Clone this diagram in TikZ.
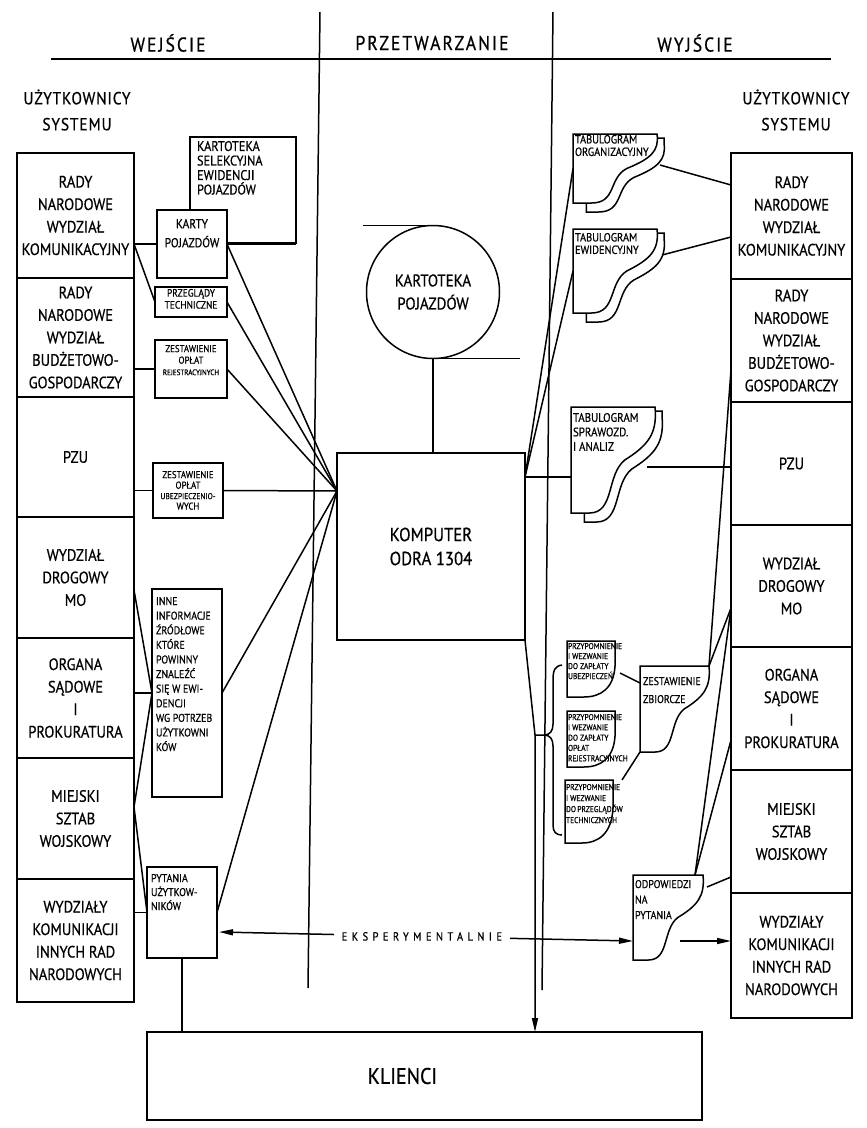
\documentclass[tikz,border=0pt]{standalone}
\usepackage{fontspec}
\setmainfont{PT Sans}[FakeStretch=0.88, FakeBold=0.6]
\usetikzlibrary{arrows.meta,calc}
\newcommand{\tbox}[4]{\parbox[c][#2][t]{#1}{\hyphenpenalty=10000 \exhyphenpenalty=10000 #3#4}}
\newcommand{\wavydoc}[1]{%
\draw[ln] let \p1=(#1.north west), \p2=(#1.south east), \n1={\x2-\x1}, \n2={\y1-\y2} in
 (\x1,\y1) -- (\x2,\y1) .. controls ({\x2+0.03*\n1},{\y1-0.25*\n2}) and ({\x1+0.92*\n1},{\y1-0.36*\n2}) .. ({\x1+0.64*\n1},{\y1-0.5*\n2}) .. controls ({\x1+0.42*\n1},{\y1-0.64*\n2}) and ({\x1+0.52*\n1},\y2) .. ({\x1+0.22*\n1},\y2) -- (\x1,\y2) -- cycle;}
\newcommand{\wavyshadow}[1]{%
\draw[ln] let \p1=(#1.north west), \p2=(#1.south east), \n1={\x2-\x1}, \n2={\y1-\y2} in
 (\x2,{\y1-4}) -- ({\x2+7},{\y1-4}) -- ({\x2+7},{\y1-9}) .. controls ({\x2+7+0.03*\n1},{\y1-9-0.25*\n2}) and ({\x1+7+0.92*\n1},{\y1-9-0.36*\n2}) .. ({\x1+7+0.64*\n1},{\y1-9-0.5*\n2}) .. controls ({\x1+7+0.42*\n1},{\y1-9-0.64*\n2}) and ({\x1+7+0.52*\n1},{\y2-9}) .. ({\x1+7+0.22*\n1},{\y2-9}) -- ({\x1+0.16*\n1},{\y2-9}) -- ({\x1+0.16*\n1},\y2);}
\newcommand{\smalldoc}[1]{%
\draw[ln] let \p1=(#1.north west), \p2=(#1.south east), \n1={\x2-\x1}, \n2={\y1-\y2} in
 (\x1,\y1) -- (\x2,\y1) -- (\x2,{\y1-0.45*\n2}) .. controls ({\x2-0.03*\n1},{\y1-0.85*\n2}) and ({\x1+0.7*\n1},\y2) .. ({\x1+0.35*\n1},\y2) -- (\x1,\y2) -- cycle;}
\tikzset{
 every node/.style={outer sep=0pt},
 ln/.style={line width=1.5pt},
 rowbox/.style={draw, line width=1.5pt, anchor=north west, align=center, inner sep=0pt, font=\fontsize{16.5}{22.5}\selectfont},
 bx/.style={draw, line width=1.5pt, inner sep=0pt, anchor=north west},
 dc/.style={inner sep=0pt, anchor=north west},
 arrT/.style={-{Triangle[length=14pt,width=6pt]}},
 arrB/.style={{Triangle[length=14pt,width=6pt]}-{Triangle[length=14pt,width=6pt]}},
 hdr/.style={font=\fontsize{20}{22}\selectfont\addfontfeature{LetterSpace=10}},
 usr/.style={font=\fontsize{17.5}{26}\selectfont\addfontfeature{LetterSpace=5}, align=center},
}
\begin{document}
\begin{tikzpicture}[x=1pt,y=1pt]
\useasboundingbox (0,0) rectangle (867,-1128);
% headers and dividers
\node[hdr] (hin) at (168,-43) {WEJŚCIE};
\node[hdr] (hproc) at (432,-43) {PRZETWARZANIE};
\node[hdr] (hout) at (695,-43) {WYJŚCIE};
\coordinate (hlA) at (51,-59); \coordinate (hlB) at (831,-59);
\coordinate (dAt) at (320,-12); \coordinate (dAb) at (308,-988);
\coordinate (dBt) at (553,-12); \coordinate (dBb) at (542,-990);
\draw[ln] (hlA) -- (hlB);
\draw[ln] (dAt) -- (dAb);
\draw[ln] (dBt) -- (dBb);
\node[usr] (usrL) at (77,-110) {UŻYTKOWNICY\\SYSTEMU};
\node[usr] (usrR) at (796,-110) {UŻYTKOWNICY\\SYSTEMU};
% left column
\node[rowbox, minimum width=117pt, minimum height=125pt] (L1) at (17,-153) {RADY\\NARODOWE\\WYDZIAŁ\\KOMUNIKACYJNY};
\node[rowbox, minimum width=117pt, minimum height=119pt] (L2) at (17,-278) {RADY\\NARODOWE\\WYDZIAŁ\\BUDŻETOWO-\\GOSPODARCZY};
\node[rowbox, minimum width=117pt, minimum height=120pt] (L3) at (17,-397) {PZU};
\node[rowbox, minimum width=117pt, minimum height=121pt] (L4) at (17,-517) {WYDZIAŁ\\DROGOWY\\MO};
\node[rowbox, minimum width=117pt, minimum height=120pt] (L5) at (17,-638) {ORGANA\\SĄDOWE\\I\\PROKURATURA};
\node[rowbox, minimum width=117pt, minimum height=121pt] (L6) at (17,-758) {MIEJSKI\\SZTAB\\WOJSKOWY};
\node[rowbox, minimum width=117pt, minimum height=123pt] (L7) at (17,-879) {WYDZIAŁY\\KOMUNIKACJI\\INNYCH RAD\\NARODOWYCH};
% right column
\node[rowbox, minimum width=121pt, minimum height=126pt] (R1) at (731,-153) {RADY\\NARODOWE\\WYDZIAŁ\\KOMUNIKACYJNY};
\node[rowbox, minimum width=121pt, minimum height=123pt] (R2) at (731,-279) {RADY\\NARODOWE\\WYDZIAŁ\\BUDŻETOWO-\\GOSPODARCZY};
\node[rowbox, minimum width=121pt, minimum height=123pt] (R3) at (731,-402) {PZU};
\node[rowbox, minimum width=121pt, minimum height=122pt] (R4) at (731,-525) {WYDZIAŁ\\DROGOWY\\MO};
\node[rowbox, minimum width=121pt, minimum height=123pt] (R5) at (731,-647) {ORGANA\\SĄDOWE\\I\\PROKURATURA};
\node[rowbox, minimum width=121pt, minimum height=123pt] (R6) at (731,-770) {MIEJSKI\\SZTAB\\WOJSKOWY};
\node[rowbox, minimum width=121pt, minimum height=125pt] (R7) at (731,-893) {WYDZIAŁY\\KOMUNIKACJI\\INNYCH RAD\\NARODOWYCH};
% left documents
\node[bx] (ks) at (190,-137) {\tbox{106pt}{106pt}{\fontsize{14}{14.5}\selectfont\raggedright\leftskip=7pt\vspace*{4pt}}{KARTOTEKA\\SELEKCYJNA\\EWIDENCJI\\POJAZDÓW}};
\node[bx, fill=white] (karty) at (157,-210) {\tbox{70pt}{68pt}{\fontsize{13}{19}\selectfont\centering\vspace*{9pt}}{KARTY\\POJAZDÓW}};
\node[bx] (prz) at (155,-287) {\tbox{72pt}{30pt}{\fontsize{10.7}{12}\selectfont\centering\vspace*{2pt}}{PRZEGLĄDY\\TECHNICZNE}};
\node[bx] (zrej) at (155,-340) {\tbox{72pt}{58pt}{\fontsize{10}{11.5}\selectfont\centering\vspace*{5pt}}{ZESTAWIENIE\\OPŁAT\\{\fontsize{8}{11.5}\selectfont REJESTRACYJNYCH}}};
\node[bx] (ubez) at (153,-463) {\tbox{70pt}{55pt}{\fontsize{10}{10.5}\selectfont\centering\vspace*{8pt}}{ZESTAWIENIE\\OPŁAT\\{\fontsize{8.5}{10.5}\selectfont UBEZPIECZENIO-}\\WYCH}};
\node[bx] (inne) at (152,-589) {\tbox{70pt}{208pt}{\fontsize{11.3}{14.6}\selectfont\raggedright\leftskip=4pt\vspace*{8pt}}{INNE\\INFORMACJE\\ŹRÓDŁOWE\\KTÓRE\\POWINNY\\ZNALEŹĆ\\SIĘ~W~EWI-\\DENCJI\\WG~POTRZEB\\UŻYTKOWNI\\KÓW}};
\node[bx] (pyt) at (147,-867) {\tbox{70pt}{91pt}{\fontsize{11.3}{14}\selectfont\raggedright\leftskip=4pt\vspace*{7pt}}{PYTANIA\\UŻYTKOW-\\NIKÓW}};
% processing
\node[draw, ln, circle, minimum size=133pt, inner sep=0pt, align=center, font=\fontsize{17}{23}\selectfont] (kp) at (433,-292) {KARTOTEKA\\POJAZDÓW};
\node[bx, minimum width=188pt, minimum height=187pt, align=center, font=\fontsize{19}{24}\selectfont] (comp) at (337,-453) {KOMPUTER\\ODRA 1304};
\draw[ln] (kp.north) -- ++(-70,0);
\draw[ln] (kp.south) -- ++(87,0);
\draw[ln] (kp.south) -- (kp.south |- comp.north);
% right documents
\node[dc] (torg) at (573,-134) {\tbox{84pt}{69pt}{\fontsize{11.8}{12.5}\selectfont\raggedright\leftskip=2pt\vspace*{1pt}}{TABULOGRAM\\ORGANIZACYJNY}};
\node[dc] (tewid) at (573,-229) {\tbox{84pt}{84pt}{\fontsize{11.8}{12.5}\selectfont\raggedright\leftskip=2pt\vspace*{4pt}}{TABULOGRAM\\EWIDENCYJNY}};
\node[dc] (tspr) at (571,-407) {\tbox{84pt}{106pt}{\fontsize{12.4}{14.5}\selectfont\raggedright\leftskip=2pt\vspace*{6pt}}{TABULOGRAM\\SPRAWOZD.\\I~ANALIZ}};
\wavydoc{torg}\wavyshadow{torg}
\wavydoc{tewid}\wavyshadow{tewid}
\wavydoc{tspr}\wavyshadow{tspr}
\node[dc] (p1) at (567,-641) {\tbox{48pt}{56pt}{\fontsize{8.5}{10}\selectfont\raggedright\leftskip=1pt\vspace*{2pt}}{PRZYPOMNIENIE\\I~WEZWANIE\\DO~ZAPŁATY\\UBEZPIECZEŃ}};
\node[dc] (p2) at (567,-711) {\tbox{48pt}{56pt}{\fontsize{8.5}{10.3}\selectfont\raggedright\leftskip=1pt\vspace*{3pt}}{PRZYPOMNIENIE\\I~WEZWANIE\\DO~ZAPŁATY\\OPŁAT\\REJESTRACYJNYCH}};
\node[dc] (p3) at (565,-780) {\tbox{48pt}{63pt}{\fontsize{8.5}{11}\selectfont\raggedright\leftskip=1pt\vspace*{4pt}}{PRZYPOMNIENIE\\I~WEZWANIE\\DO~PRZEGLĄDÓW\\TECHNICZNYCH}};
\smalldoc{p1}\smalldoc{p2}\smalldoc{p3}
\node[dc] (zbior) at (640,-666) {\tbox{69pt}{86pt}{\fontsize{11.3}{18}\selectfont\raggedright\leftskip=3pt\vspace*{11pt}}{ZESTAWIENIE\\ZBIORCZE}};
\node[dc] (odp) at (633,-875) {\tbox{70pt}{85pt}{\fontsize{11.3}{15.5}\selectfont\raggedright\leftskip=2pt\vspace*{5pt}}{ODPOWIEDZI\\NA\\PYTANIA}};
\wavydoc{zbior}\wavydoc{odp}
% clients
\node[bx, minimum width=555pt, minimum height=88pt, font=\fontsize{22.6}{26}\selectfont] (kl) at (147,-1032) {KLIENCI\hspace*{44pt}};
% left connectors
\coordinate (L1c) at (134,-244);
\coordinate (L4c) at (134,-590);
\coordinate (L6c) at (134,-807);
\coordinate (compL) at (337,-491);
\draw[ln] (L1c) -- (karty.west);
\draw[ln] (L1c) -- (prz.west);
\draw[ln] (zrej.west) -- (zrej.west -| L2.east);
\draw[ln] (ubez.west) -- (ubez.west -| L3.east);
\draw[ln] (L4c) -- (inne.west);
\draw[ln] (inne.west) -- (inne.west -| L5.east);
\draw[ln] (L6c) -- (inne.west);
\draw[ln] (L6c) -- (pyt.west);
\draw[ln] (pyt.west) -- (pyt.west -| L7.east);
\draw[ln] (ks.south east |- karty.east) -- (karty.east);
\draw[ln] (karty.east) -- (compL);
\draw[ln] (prz.east) -- (compL);
\draw[ln] (zrej.east) -- (compL);
\draw[ln] (ubez.east) -- (compL);
\draw[ln] (inne.east) -- (compL);
\draw[ln] (pyt.east) -- (compL);
\draw[ln] (pyt.south) -- (pyt.south |- kl.north);
% right connectors
\coordinate (compR) at (525,-477);
\coordinate (torgE) at (660,-165); \coordinate (R1a) at (731,-185);
\coordinate (tewidE) at (662,-255); \coordinate (R1b) at (731,-237);
\coordinate (tsprE) at (647,-467);
\coordinate (R2a) at (731,-370);
\coordinate (odpN) at (695,-875); \coordinate (R4a) at (731,-608); \coordinate (R5a) at (731,-740);
\coordinate (odpE) at (707,-887); \coordinate (R6a) at (731,-877);
\coordinate (odpA) at (680,-941);
\coordinate (p1E) at (620,-673); \coordinate (zbW) at (640,-683);
\coordinate (p3N) at (622,-780);
\draw[ln] (compR) -- (torg.west);
\draw[ln] (compR) -- (tewid.west);
\draw[ln] (compR) -- (compR -| tspr.west);
\draw[ln] (torgE) -- (R1a);
\draw[ln] (tewidE) -- (R1b);
\draw[ln] (tsprE) -- (tsprE -| R3.west);
\draw[ln] (zbior.north east) -- (R2a);
\draw[ln] (zbior.north east) -- (R4a);
\draw[ln] (odpN) -- (R4a);
\draw[ln] (odpN) -- (R5a);
\draw[ln] (odpE) -- (R6a);
\draw[ln, arrT] (odpA) -- (odpA -| R7.west);
\draw[ln] (p1E) -- (zbW);
\draw[ln] (p3N) -- (zbior.south west);
% bracket and arrow to clients
\coordinate (brk) at (535,-735);
\draw[ln] (562,-665) .. controls (555,-666) and (553,-670) .. (553,-680) -- (553,-724) .. controls (553,-731) and (550,-735) .. (544,-735) -- (brk);
\draw[ln] (544,-735) .. controls (550,-735) and (553,-739) .. (553,-746) -- (553,-825) .. controls (553,-832) and (556,-835) .. (562,-835);
\draw[ln, arrT] (comp.south east) -- (brk) -- (brk |- kl.north);
% experimental link
\coordinate (eL) at (219,-932);
\coordinate (eR) at (633,-941);
\draw[ln, arrB] (eL) -- (eR) node[pos=0.49, fill=white, inner xsep=8pt, inner ysep=3pt, font=\fontsize{11.8}{13}\selectfont\addfontfeature{LetterSpace=38}] (eks) {EKSPERYMENTALNIE};
\end{tikzpicture}
\end{document}
